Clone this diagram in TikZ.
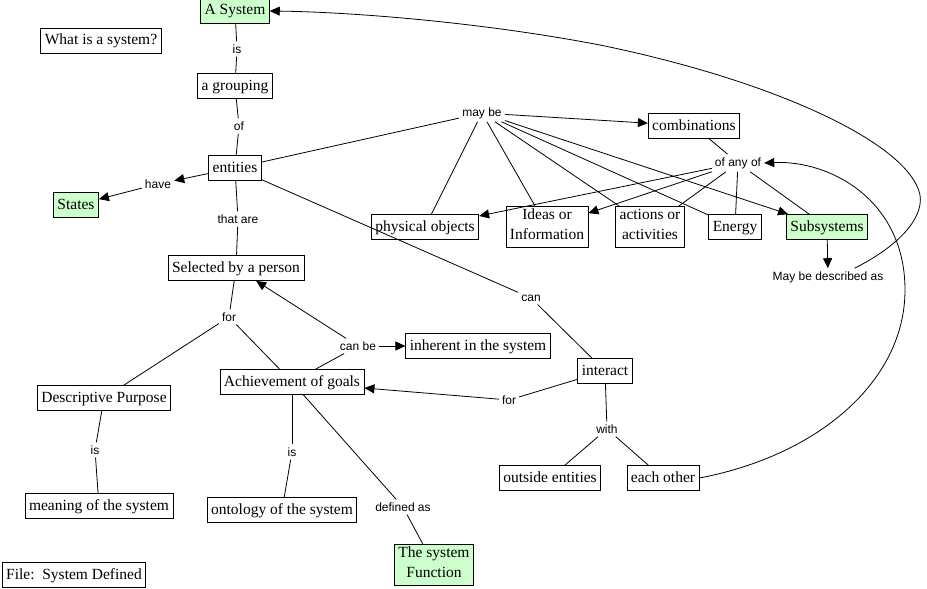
\documentclass[tikz,border=0pt]{standalone}
\usepackage{fontspec}
\setmainfont{Liberation Serif}
\setsansfont{Liberation Sans}
\usetikzlibrary{arrows.meta}
\definecolor{cmapgreen}{RGB}{204,255,204}
\tikzset{concept/.style = {draw, line width=0.8pt, inner xsep=4pt, inner ysep=2.5pt, align=center,
    font=\fontsize{15.5}{20}\selectfont, execute at begin node=\strut}}
\tikzset{keyconcept/.style = {concept, fill=cmapgreen}}
\tikzset{linkword/.style = {inner sep=3pt, font=\fontsize{12}{13}\sffamily}}
\tikzset{link/.style = {line width=0.8pt}}
\tikzset{linkto/.style = {link, -{Triangle[length=10pt,width=9pt]}}}

\begin{document}
\begin{tikzpicture}[x=1pt, y=-1pt]
\useasboundingbox (0,0) rectangle (927,589);
\node[keyconcept] (asystem) at (235,11) {A System};
\node[concept] (question) at (101,41) {What is a system?};
\node[concept] (grouping) at (235,86) {a grouping};
\node[concept] (entities) at (235,168) {entities};
\node[keyconcept] (states) at (76,205) {States};
\node[concept] (selected) at (236,268) {Selected by a person};
\node[concept] (descriptive) at (104,398) {Descriptive Purpose};
\node[concept] (achievement) at (292,382) {Achievement of goals};
\node[concept] (inherent) at (478,346) {inherent in the system};
\node[concept] (meaning) at (99,506) {meaning of the system};
\node[concept] (ontology) at (282,510) {ontology of the system};
\node[keyconcept] (function) at (434,565) {The system\\Function};
\node[concept] (file) at (74,575) {File:\enspace System Defined};
\node[concept] (combinations) at (694,126) {combinations};
\node[concept] (physical) at (425,227) {physical objects};
\node[concept] (ideas) at (547,227) {Ideas or\\Information};
\node[concept] (actions) at (650,227) {actions or\\activities};
\node[concept] (energy) at (735,227) {Energy};
\node[keyconcept] (subsystems) at (827,227) {Subsystems};
\node[concept] (interact) at (605,371) {interact};
\node[concept] (outside) at (550,478) {outside entities};
\node[concept] (eachother) at (663,478) {each other};

\node[linkword] (is1) at (237,49) {is};
\node[linkword] (of) at (239,126) {of};
\node[linkword] (have) at (158,184) {have};
\node[linkword] (thatare) at (238,219) {that are};
\node[linkword] (for1) at (229,317) {for};
\node[linkword] (canbe) at (358,346) {can be};
\node[linkword] (is2) at (95,450) {is};
\node[linkword] (is3) at (292,452) {is};
\node[linkword] (definedas) at (403,507) {defined as};
\node[linkword] (maybe) at (482,113) {may be};
\node[linkword] (ofanyof) at (738,163) {of any of};
\node[linkword] (described) at (828,277) {May be described as};
\node[linkword] (can) at (531,298) {can};
\node[linkword] (for2) at (509,400) {for};
\node[linkword] (with) at (607,429) {with};

\draw[link] (asystem) -- (is1);
\draw[link] (is1) -- (grouping);
\draw[link] (grouping) -- (of);
\draw[link] (of) -- (entities);
\draw[linkto] (entities) -- (have);
\draw[linkto] (have) -- (states);
\draw[link] (entities) -- (thatare);
\draw[link] (thatare) -- (selected);
\draw[link] (selected) -- (for1);
\draw[link] (for1) -- (descriptive);
\draw[link] (for1) -- (achievement);
\draw[link] (achievement) -- (canbe);
\draw[linkto] (canbe) -- (selected);
\draw[linkto] (canbe) -- (inherent);
\draw[link] (descriptive) -- (is2);
\draw[link] (is2) -- (meaning);
\draw[link] (achievement) -- (is3);
\draw[link] (is3) -- (ontology);
\draw[link] (achievement) -- (definedas);
\draw[link] (definedas) -- (function);
\draw[link] (entities) -- (maybe);
\draw[linkto] (maybe) -- (combinations);
\draw[link] (maybe) -- (physical);
\draw[link] (maybe) -- (ideas);
\draw[link] (maybe) -- (actions);
\draw[link] (maybe) -- (energy);
\draw[linkto] (maybe) -- (subsystems);
\draw[link] (combinations) -- (ofanyof);
\draw[linkto] (ofanyof) -- (physical);
\draw[linkto] (ofanyof) -- (ideas);
\draw[link] (ofanyof) -- (actions);
\draw[link] (ofanyof) -- (energy);
\draw[link] (ofanyof) -- (subsystems);
\draw[linkto] (subsystems) -- (described);
\draw[linkto] ([xshift=-32pt]described.north east) .. controls (895,248) and (924,220) .. (920,195)
  .. controls (910,145) and (780,82) .. (600,45) .. controls (480,22) and (350,12) .. (asystem.east);
\draw[link] (entities) -- (can);
\draw[link] (can) -- (interact);
\draw[link] (interact) -- (for2);
\draw[linkto] (for2) -- (achievement);
\draw[link] (interact) -- (with);
\draw[link] (with) -- (outside);
\draw[link] (with) -- (eachother);
\draw[linkto] (eachother.east) .. controls (820,455) and (905,380) .. (905,290)
  .. controls (905,200) and (830,160) .. (ofanyof.east);
\end{tikzpicture}
\end{document}
